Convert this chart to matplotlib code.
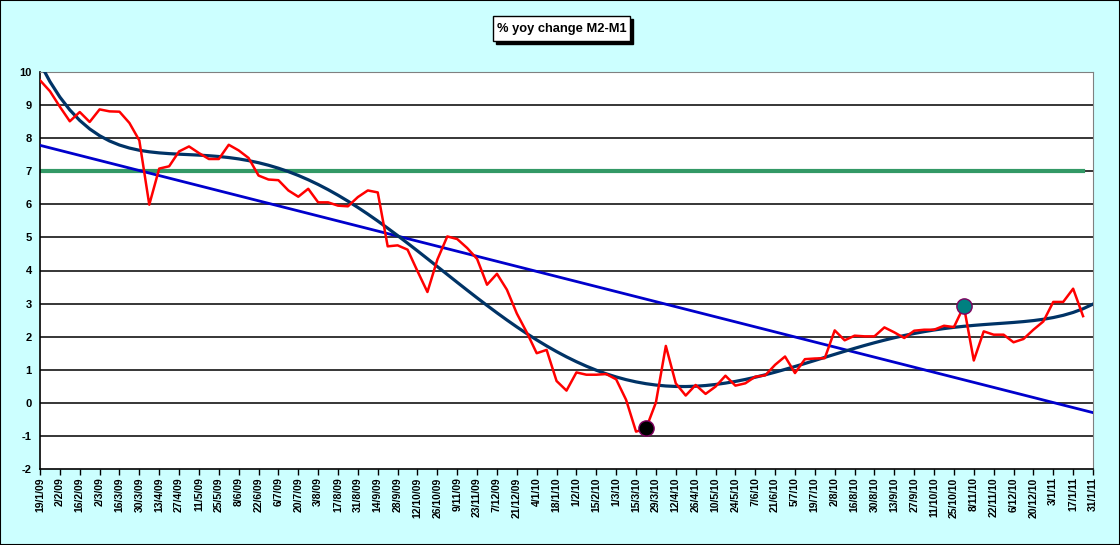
import numpy as np
import matplotlib.pyplot as plt
from matplotlib.patches import Rectangle

# Data: weekly % yoy change M2-M1, 19/1/09 .. 24/1/11
yoy = [9.75, 9.42, 8.95, 8.51, 8.79, 8.49, 8.87, 8.81, 8.80, 8.46,
       7.93, 5.99, 7.08, 7.15, 7.60, 7.75, 7.55, 7.37, 7.37, 7.80,
       7.63, 7.40, 6.87, 6.75, 6.73, 6.42, 6.23, 6.47, 6.06, 6.06,
       5.96, 5.94, 6.22, 6.42, 6.36, 4.73, 4.76, 4.63, 3.98, 3.35,
       4.33, 5.03, 4.95, 4.68, 4.35, 3.57, 3.90, 3.42, 2.70, 2.13,
       1.50, 1.60, 0.66, 0.37, 0.92, 0.85, 0.85, 0.87, 0.71, 0.09,
       -0.87, -0.78, 0.01, 1.72, 0.59, 0.22, 0.54, 0.27, 0.49, 0.82,
       0.52, 0.59, 0.79, 0.83, 1.15, 1.40, 0.90, 1.32, 1.34, 1.35,
       2.19, 1.89, 2.03, 2.01, 2.01, 2.28, 2.13, 1.96, 2.18, 2.21,
       2.21, 2.33, 2.29, 2.92, 1.28, 2.16, 2.06, 2.06, 1.83, 1.93,
       2.21, 2.46, 3.05, 3.05, 3.45, 2.62]
n_weeks = 107          # 19/1/09 .. 31/1/11
threshold = 7.0
low_point = (61, -0.76)
high_point = (93, 2.92)

tick_labels = ['19/1/09', '2/2/09', '16/2/09', '2/3/09', '16/3/09', '30/3/09', '13/4/09',
               '27/4/09', '11/5/09', '25/5/09', '8/6/09', '22/6/09', '6/7/09', '20/7/09',
               '3/8/09', '17/8/09', '31/8/09', '14/9/09', '28/9/09', '12/10/09', '26/10/09',
               '9/11/09', '23/11/09', '7/12/09', '21/12/09', '4/1/10', '18/1/10', '1/2/10',
               '15/2/10', '1/3/10', '15/3/10', '29/3/10', '12/4/10', '26/4/10', '10/5/10',
               '24/5/10', '7/6/10', '21/6/10', '5/7/10', '19/7/10', '2/8/10', '16/8/10',
               '30/8/10', '13/9/10', '27/9/10', '11/10/10', '25/10/10', '8/11/10', '22/11/10',
               '6/12/10', '20/12/10', '3/1/11', '17/1/11', '31/1/11']

plt.rcParams['font.family'] = ['Liberation Sans', 'DejaVu Sans']

x = np.arange(len(yoy))
xt = np.arange(n_weeks)

# trendlines (as in the spreadsheet): linear and polynomial
lin = np.polyval(np.polyfit(x, yoy, 1), xt)
poly = np.polyval(np.polyfit(x, yoy, 6), xt)

W, H = 1120, 545
fig = plt.figure(figsize=(W/100, H/100), dpi=100, facecolor='#CCFFFF')
fig.patches.append(Rectangle((0, 0), 1, 1, transform=fig.transFigure, fill=False,
                             edgecolor='black', linewidth=1.5))
ax = fig.add_axes([40/W, 1 - 469/H, 1053/W, 397/H])
ax.set_facecolor('white')

for v in range(-1, 10):
    ax.axhline(v, color='black', linewidth=1.1, zorder=1)

ax.plot(x, [threshold]*len(x), color='#339966', linewidth=3, zorder=2)
ax.plot(xt, lin, color='#0000CC', linewidth=2, zorder=3)
ax.plot(xt, poly, color='#003366', linewidth=2.3, zorder=3)
ax.plot(x, yoy, color='#FF0000', linewidth=1.8, zorder=4)
ax.plot(*low_point, 'o', markersize=11, color='black', markeredgecolor='#800060', zorder=5)
ax.plot(*high_point, 'o', markersize=11, color='#008080', markeredgecolor='#800060', zorder=5)

ax.set_xlim(0, n_weeks - 1)
ax.set_ylim(-2, 10)
ax.set_yticks(range(-2, 11))
ax.set_yticklabels([str(v) for v in range(-2, 11)], fontsize=8, fontweight='bold')
ax.set_xticks(np.arange(0, n_weeks, 2))
ax.set_xticklabels(tick_labels, rotation=90, fontsize=7.5, fontweight='bold')
ax.tick_params(axis='x', length=4, width=1, pad=2)
ax.tick_params(axis='y', length=0, pad=6)

for s in ['top', 'right']:
    ax.spines[s].set_color('#808080')
ax.spines['left'].set_linewidth(1.2)
ax.spines['bottom'].set_linewidth(1.2)

# title box with drop shadow
bx, by, bw, bh = 493, 16, 137, 25
fig.patches.append(Rectangle(((bx + 3)/W, 1 - (by + bh + 3)/H), bw/W, bh/H,
                             transform=fig.transFigure, facecolor='black',
                             edgecolor='black', zorder=1))
fig.patches.append(Rectangle((bx/W, 1 - (by + bh)/H), bw/W, bh/H,
                             transform=fig.transFigure, facecolor='white',
                             edgecolor='black', linewidth=1, zorder=2))
fig.text((bx + bw/2)/W, 1 - (by + bh/2 + 0.5)/H, '% yoy change M2-M1',
         ha='center', va='center', fontsize=9.3, fontweight='bold', zorder=3)

fig.savefig('out.png', dpi=100, facecolor=fig.get_facecolor())
